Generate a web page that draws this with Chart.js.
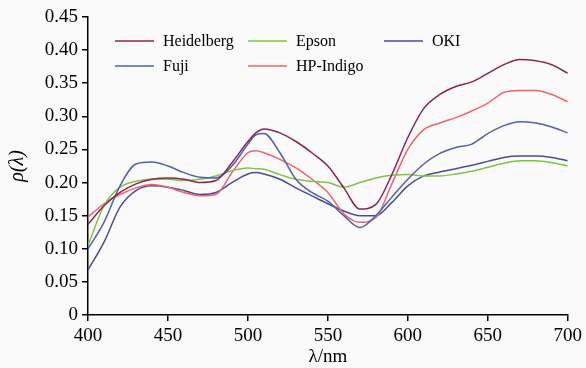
<!DOCTYPE html>
<html>
<head>
<meta charset="utf-8">
<script src="https://cdn.jsdelivr.net/npm/chart.js@4/dist/chart.umd.min.js"></script>
<style>
  html, body { margin: 0; padding: 0; background: #fafafa; }
  #wrap { width: 586px; height: 368px; }
</style>
</head>
<body>
<div id="wrap"><canvas id="chart" width="586" height="368"></canvas></div>
<script>
// wavelength samples (nm)
var waves = [400, 410, 420, 430, 440, 450, 460, 470, 480, 490, 500, 505, 510, 520, 530, 540, 550, 560, 570, 580, 590, 600, 610, 620, 630, 640, 650, 660, 670, 680, 690, 700];

var heidelberg = [0.137, 0.165, 0.185, 0.198, 0.205, 0.207, 0.205, 0.200, 0.203, 0.230, 0.262, 0.275, 0.281, 0.275, 0.262, 0.245, 0.225, 0.192, 0.160, 0.167, 0.212, 0.268, 0.312, 0.333, 0.345, 0.352, 0.365, 0.378, 0.386, 0.384, 0.378, 0.365];
var fuji       = [0.100, 0.140, 0.195, 0.228, 0.231, 0.225, 0.215, 0.208, 0.207, 0.225, 0.258, 0.272, 0.274, 0.245, 0.205, 0.185, 0.172, 0.150, 0.132, 0.150, 0.178, 0.205, 0.228, 0.244, 0.253, 0.258, 0.274, 0.286, 0.292, 0.290, 0.284, 0.275];
var epson      = [0.105, 0.165, 0.193, 0.202, 0.205, 0.205, 0.203, 0.205, 0.210, 0.218, 0.222, 0.221, 0.220, 0.212, 0.205, 0.202, 0.200, 0.193, 0.200, 0.207, 0.211, 0.212, 0.210, 0.210, 0.213, 0.217, 0.223, 0.229, 0.233, 0.233, 0.230, 0.225];
var hpIndigo   = [0.148, 0.168, 0.182, 0.192, 0.197, 0.193, 0.185, 0.180, 0.182, 0.215, 0.245, 0.248, 0.245, 0.235, 0.222, 0.205, 0.185, 0.153, 0.140, 0.147, 0.198, 0.250, 0.280, 0.290, 0.298, 0.308, 0.320, 0.336, 0.339, 0.339, 0.333, 0.322];
var oki        = [0.068, 0.110, 0.163, 0.188, 0.195, 0.193, 0.188, 0.182, 0.185, 0.200, 0.213, 0.215, 0.213, 0.205, 0.192, 0.180, 0.168, 0.157, 0.150, 0.150, 0.170, 0.195, 0.210, 0.216, 0.221, 0.226, 0.232, 0.238, 0.240, 0.240, 0.238, 0.233];

var yTicks = [0, 0.05, 0.10, 0.15, 0.20, 0.25, 0.30, 0.35, 0.40, 0.45];
var xTicks = [400, 450, 500, 550, 600, 650, 700];

var serif = '"Liberation Serif", "DejaVu Serif", serif';

function toPoints(vals) {
    return waves.map(function(w, i) { return { x: w, y: vals[i] }; });
}

function series(label, vals, color) {
    return {
        label: label,
        data: toPoints(vals),
        borderColor: color,
        backgroundColor: color,
        borderWidth: 1.5,
        pointRadius: 0,
        cubicInterpolationMode: 'monotone',
        fill: false
    };
}

// legend drawn inside the plot area, 3 columns x 2 rows
var legendInside = {
    id: 'legendInside',
    afterDraw: function(chart) {
        var ctx = chart.ctx;
        var slots = [
            { ds: 0, x: 115, y: 41 },
            { ds: 2, x: 248, y: 41 },
            { ds: 4, x: 384, y: 41 },
            { ds: 1, x: 115, y: 66 },
            { ds: 3, x: 248, y: 66 }
        ];
        ctx.save();
        ctx.font = '16px ' + serif;
        ctx.textBaseline = 'middle';
        ctx.fillStyle = '#000';
        slots.forEach(function(s) {
            var d = chart.data.datasets[s.ds];
            ctx.strokeStyle = d.borderColor;
            ctx.lineWidth = 1.5;
            ctx.beginPath();
            ctx.moveTo(s.x, s.y);
            ctx.lineTo(s.x + 39, s.y);
            ctx.stroke();
            ctx.fillText(d.label, s.x + 48, s.y + 1);
        });
        ctx.restore();
    }
};

new Chart(document.getElementById('chart').getContext('2d'), {
    type: 'line',
    data: {
        datasets: [
            series('Heidelberg', heidelberg, '#8c2456'),
            series('Fuji', fuji, '#5060b0'),
            series('Epson', epson, '#80c444'),
            series('HP-Indigo', hpIndigo, '#f2646c'),
            series('OKI', oki, '#4c4c94')
        ]
    },
    options: {
        responsive: false,
        animation: false,
        layout: { padding: { top: 17, right: 16, left: 0, bottom: 0 } },
        plugins: {
            legend: { display: false },
            tooltip: { enabled: false }
        },
        scales: {
            x: {
                type: 'linear',
                min: 400,
                max: 700,
                afterBuildTicks: function(axis) {
                    axis.ticks = xTicks.map(function(v) { return { value: v }; });
                },
                afterFit: function(axis) { axis.height = 53; },
                border: { color: '#000', width: 1.5 },
                grid: { drawOnChartArea: false, color: '#000', tickLength: 6, lineWidth: 1.5 },
                ticks: {
                    color: '#000',
                    padding: 4,
                    maxRotation: 0,
                    font: { family: serif, size: 19 }
                },
                title: {
                    display: true,
                    text: 'λ/nm',
                    color: '#000',
                    padding: { top: -2, bottom: 0 },
                    font: { family: serif, size: 19 }
                }
            },
            y: {
                min: 0,
                max: 0.45,
                afterBuildTicks: function(axis) {
                    axis.ticks = yTicks.map(function(v) { return { value: v }; });
                },
                afterFit: function(axis) { axis.width = 88; },
                border: { color: '#000', width: 1.5 },
                grid: { drawOnChartArea: false, color: '#000', tickLength: 6, lineWidth: 1.5 },
                ticks: {
                    color: '#000',
                    padding: 4,
                    font: { family: serif, size: 19 },
                    callback: function(v) { return v === 0 ? '0' : v.toFixed(2); }
                },
                title: {
                    display: true,
                    text: 'ρ(λ)',
                    color: '#000',
                    padding: { top: 6, bottom: 0 },
                    font: { family: serif, size: 20, style: 'italic' }
                }
            }
        }
    },
    plugins: [legendInside]
});
</script>
</body>
</html>
